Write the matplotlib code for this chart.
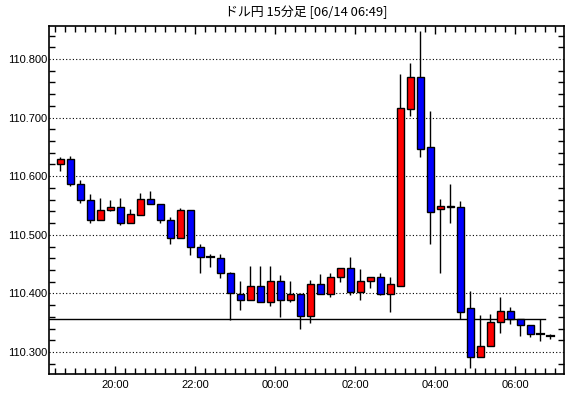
import matplotlib
matplotlib.use("Agg")
import matplotlib.pyplot as plt
from matplotlib.patches import Rectangle
import numpy as np

title = "ドル円 15分足 [06/14 06:49]"
tick_labels = ["20:00", "22:00", "00:00", "02:00", "04:00", "06:00"]
first_bar_minutes = 18 * 60 + 30   # 18:30 bar
bar_minutes = 15

opens = [110.620, 110.629, 110.586, 110.560, 110.525, 110.543, 110.547, 110.521, 110.534, 110.561,
         110.552, 110.526, 110.494, 110.543, 110.480, 110.462, 110.460, 110.434, 110.399, 110.388,
         110.412, 110.386, 110.421, 110.388, 110.399, 110.362, 110.416, 110.399, 110.428, 110.443,
         110.402, 110.421, 110.428, 110.399, 110.413, 110.714, 110.769, 110.649, 110.544, 110.550,
         110.547, 110.375, 110.291, 110.310, 110.351, 110.370, 110.356, 110.346, 110.330, 110.328]
highs = [110.633, 110.634, 110.593, 110.570, 110.562, 110.559, 110.563, 110.544, 110.572, 110.575,
         110.552, 110.531, 110.545, 110.543, 110.484, 110.467, 110.468, 110.437, 110.421, 110.446,
         110.447, 110.446, 110.431, 110.421, 110.399, 110.423, 110.433, 110.435, 110.443, 110.462,
         110.441, 110.428, 110.434, 110.428, 110.774, 110.793, 110.848, 110.711, 110.561, 110.587,
         110.558, 110.404, 110.363, 110.365, 110.394, 110.377, 110.356, 110.346, 110.356, 110.330]
lows = [110.609, 110.584, 110.555, 110.521, 110.525, 110.541, 110.517, 110.521, 110.534, 110.552,
        110.520, 110.485, 110.494, 110.466, 110.434, 110.445, 110.427, 110.354, 110.372, 110.388,
        110.386, 110.379, 110.360, 110.386, 110.340, 110.349, 110.399, 110.394, 110.420, 110.397,
        110.388, 110.410, 110.397, 110.368, 110.413, 110.703, 110.632, 110.485, 110.434, 110.521,
        110.357, 110.272, 110.291, 110.310, 110.332, 110.347, 110.328, 110.325, 110.318, 110.323]
closes = [110.629, 110.586, 110.560, 110.526, 110.543, 110.547, 110.521, 110.535, 110.561, 110.552,
          110.526, 110.494, 110.543, 110.480, 110.462, 110.462, 110.434, 110.400, 110.388, 110.412,
          110.386, 110.421, 110.388, 110.399, 110.362, 110.416, 110.399, 110.428, 110.443, 110.402,
          110.421, 110.428, 110.399, 110.416, 110.716, 110.769, 110.646, 110.539, 110.550, 110.547,
          110.369, 110.291, 110.310, 110.351, 110.370, 110.357, 110.346, 110.331, 110.330, 110.328]
ref_level = 110.356
ref_level_end_bar = 48.5

fig = plt.figure(figsize=(5.70, 3.98), dpi=100)
ax = fig.add_axes([49/570, 1 - 374/398, (564 - 49)/570, (374 - 26)/398])

n = len(opens)
x = np.arange(n)
w = 0.7
for i in range(n):
    o, h, l, c = opens[i], highs[i], lows[i], closes[i]
    ax.plot([x[i], x[i]], [l, h], color="black", lw=1.0, zorder=2, solid_capstyle="butt")
    if abs(c - o) < 1e-9:
        ax.plot([x[i] - w/2, x[i] + w/2], [o, o], color="black", lw=1.6, zorder=3)
    else:
        col = "#ff0000" if c > o else "#0000ff"
        ax.add_patch(Rectangle((x[i] - w/2, min(o, c)), w, abs(c - o),
                               facecolor=col, edgecolor="black", lw=1.0, zorder=3))

ax.plot([-1.1, ref_level_end_bar], [ref_level, ref_level], color="black", lw=1.0, zorder=1)

ax.set_xlim(-1.1, 50.4)
ax.set_ylim(110.2625, 110.8563)

yt = [110.3, 110.4, 110.5, 110.6, 110.7, 110.8]
ax.set_yticks(yt)
ax.set_yticklabels([f"{v:.3f}" for v in yt])
ax.set_yticks(np.arange(110.28, 110.86, 0.02), minor=True)
for v in yt:
    ax.axhline(v, color="black", lw=0.8, ls=(0, (1, 2)), zorder=0)

# first 20:00 tick: bar boundary before the 20:00 bar
first_tick_bar = ((20 * 60) - first_bar_minutes) / bar_minutes - 0.5
xt = [first_tick_bar + 8 * k for k in range(len(tick_labels))]
ax.set_xticks(xt)
ax.set_xticklabels(tick_labels)
ax.set_xticks(np.arange(-0.5, 50.5, 1.0), minor=True)

ax.tick_params(axis="both", which="major", direction="in", length=6, width=1,
               top=True, right=True, labelsize=8, pad=4)
ax.tick_params(axis="y", which="major", length=0, pad=1)
ax.tick_params(axis="both", which="minor", direction="in", length=4, width=1,
               top=True, right=True)
for lab in ax.get_xticklabels() + ax.get_yticklabels():
    lab.set_family("Liberation Sans")
for s in ax.spines.values():
    s.set_linewidth(1.2)

fig.text((49 + 564) / 2 / 570, 1 - 12 / 398, title, ha="center", va="center",
         fontsize=9.3, family=["Noto Sans CJK JP", "DejaVu Sans"])

fig.savefig("out.png", dpi=100)
